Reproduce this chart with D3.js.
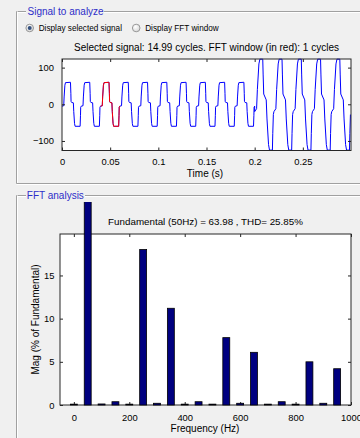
<!DOCTYPE html>
<html>
<head>
<meta charset="utf-8">
<script src="https://cdn.jsdelivr.net/npm/d3@7"></script>
<style>
  body { margin: 0; background: #f0f0f0; }
  svg { display: block; }
  text { font-family: "Liberation Sans", Arial, sans-serif; fill: #000; }
</style>
</head>
<body>
<svg width="360" height="438"></svg>
<script>
// ---- data ----

// one cycle of the signal, [phase, value], small amplitude (t < 0.2 s)
var lowCycle = [
  [0.00, -5], [0.09, -4], [0.11, 20], [0.15, 52], [0.18, 59], [0.44, 60],
  [0.46, 30], [0.47, 8], [0.50, 5], [0.59, 4], [0.61, -20], [0.65, -52],
  [0.68, -60], [0.94, -60], [0.96, -30], [0.97, -8], [1.00, -5]
];
// one cycle, large amplitude (t >= 0.2 s)
var highCycle = [
  [0.00, -20], [0.10, -12], [0.14, 40], [0.22, 110], [0.27, 123], [0.42, 123],
  [0.44, 80], [0.47, 28], [0.60, 12], [0.64, -40], [0.72, -110], [0.77, -125],
  [0.92, -125], [0.94, -80], [0.97, -28], [1.00, -20]
];
var cycleKind = ["low", "low", "low", "low", "low", "low", "low", "low", "low", "low",
                 "high", "high", "high", "high", "high"];
var period = 0.02;
var tEnd = 0.2998;
var fftWindow = [0.04, 0.06];

var timeTicks = [0, 0.05, 0.1, 0.15, 0.2, 0.25];
var timeTickLabels = ["0", "0.05", "0.1", "0.15", "0.2", "0.25"];
var signalTicks = [-100, 0, 100];

var harmonicFreqs = [0, 50, 100, 150, 200, 250, 300, 350, 400, 450,
                     500, 550, 600, 650, 700, 750, 800, 850, 900, 950];
var harmonicMags = [0.1, 100, 0.12, 0.38, 0.1, 18.0, 0.2, 11.2, 0.1, 0.38,
                    0.1, 7.8, 0.2, 6.1, 0.1, 0.38, 0.1, 5.0, 0.2, 4.2];
var freqTicks = [0, 200, 400, 600, 800, 1000];
var magTicks = [0, 5, 10, 15];

var signalText = "Selected signal: 14.99 cycles. FFT window (in red): 1 cycles";
var fftText = "Fundamental (50Hz) = 63.98 , THD= 25.85%";

// ---- build the sample table ----
var samples = [];
cycleKind.forEach(function(kind, i) {
  var shape = kind === "low" ? lowCycle : highCycle;
  shape.forEach(function(p) {
    var t = (i + p[0]) * period;
    if (t <= tEnd) samples.push({t: t, v: p[1]});
  });
});
var redSamples = samples.filter(function(d) {
  return d.t >= fftWindow[0] - 1e-9 && d.t <= fftWindow[1] + 1e-9;
});

var svg = d3.select("svg");
var frameGrey = "#a0a0a0";
var axisCol = "#262626";

function translate(x, y) { return "translate(" + [x, y] + ")"; }

// ---- etched panel frames ----
function etched(g, x1, y1, x2, y2) {
  var dx = x1 === x2 ? 1 : 0, dy = y1 === y2 ? 1 : 0;
  g.append("line").attr("x1", x1).attr("y1", y1).attr("x2", x2).attr("y2", y2)
    .attr("stroke", frameGrey);
  g.append("line").attr("x1", x1 + dx).attr("y1", y1 + dy)
    .attr("x2", x2 + dx).attr("y2", y2 + dy)
    .attr("stroke", "#ffffff");
}
var frames = svg.append("g").classed("frames", true);
etched(frames, 16.5, 11.5, 26, 11.5);
etched(frames, 104, 11.5, 360, 11.5);
etched(frames, 16.5, 11.5, 16.5, 183.5);
etched(frames, 16.5, 183.5, 360, 183.5);
etched(frames, 16.5, 195.5, 26, 195.5);
etched(frames, 85, 195.5, 360, 195.5);
etched(frames, 16.5, 195.5, 16.5, 438);

var panelTitle = {"font-size": "10px", "fill": "#2d2dc8"};
frames.append("text").attr("x", 27.5).attr("y", 15).text("Signal to analyze")
  .style("font-size", panelTitle["font-size"]).style("fill", panelTitle.fill);
frames.append("text").attr("x", 26.8).attr("y", 198.8).text("FFT analysis")
  .style("font-size", panelTitle["font-size"]).style("fill", panelTitle.fill);

// ---- radio buttons ----
var grad = svg.append("defs").append("radialGradient").attr("id", "radioFill")
  .attr("cx", "40%").attr("cy", "35%").attr("r", "70%");
grad.append("stop").attr("offset", "0%").attr("stop-color", "#ffffff");
grad.append("stop").attr("offset", "100%").attr("stop-color", "#d4d4d4");

var radios = [
  {x: 29.7, label: "Display selected signal", on: true},
  {x: 136.2, label: "Display FFT window", on: false}
];
var rg = svg.append("g").classed("radios", true);
radios.forEach(function(r) {
  rg.append("circle").attr("cx", r.x).attr("cy", 28).attr("r", 3.8)
    .attr("fill", "url(#radioFill)").attr("stroke", "#8f8f8f").attr("stroke-width", 0.9);
  if (r.on) {
    rg.append("circle").attr("cx", r.x).attr("cy", 28).attr("r", 2)
      .attr("fill", "#34507e");
  }
  rg.append("text").attr("x", r.x + 9).attr("y", 31).text(r.label)
    .style("font-size", "8.2px");
});

// ---- time signal plot ----
var xT = d3.scaleLinear().domain([0, 0.3]).range([62, 351]);
var yT = d3.scaleLinear().domain([-126, 123.5]).range([150.5, 59]);

var top_g = svg.append("g").classed("signal_plot", true);
top_g.append("rect").attr("x", 62).attr("y", 59).attr("width", 289).attr("height", 91.5)
  .attr("fill", "#ffffff");

var line = d3.line().x(function(d) { return xT(d.t); }).y(function(d) { return yT(d.v); });
top_g.append("path").datum(samples).attr("d", line)
  .attr("fill", "none").attr("stroke", "#0000ff").attr("stroke-width", 1);
top_g.append("path").datum(redSamples).attr("d", line)
  .attr("fill", "none").attr("stroke", "#ff0000").attr("stroke-width", 1);

function styleAxis(g, fs) {
  g.select(".domain").remove();
  g.selectAll(".tick line").attr("stroke", axisCol);
  g.selectAll(".tick text").style("font-family", "'Liberation Sans', Arial, sans-serif")
    .style("font-size", fs).attr("fill", "#000");
}

top_g.append("g").attr("transform", translate(0, 150.5))
  .call(d3.axisBottom(xT).tickValues(timeTicks).tickSizeInner(-3).tickSizeOuter(0)
    .tickPadding(8).tickFormat(function(d, i) { return timeTickLabels[i]; }))
  .call(styleAxis, "9.4px");
top_g.append("g").attr("transform", translate(0, 59))
  .call(d3.axisTop(xT).tickValues(timeTicks).tickSizeInner(-3).tickSizeOuter(0).tickFormat(""))
  .call(styleAxis, "9.4px");
top_g.append("g").attr("transform", translate(62, 0))
  .call(d3.axisLeft(yT).tickValues(signalTicks).tickSizeInner(-3).tickSizeOuter(0).tickPadding(8))
  .call(styleAxis, "9.4px");
top_g.append("g").attr("transform", translate(351, 0))
  .call(d3.axisRight(yT).tickValues(signalTicks).tickSizeInner(-3).tickSizeOuter(0).tickFormat(""))
  .call(styleAxis, "9.4px");

top_g.append("rect").attr("x", 62).attr("y", 59).attr("width", 289).attr("height", 91.5)
  .attr("fill", "none").attr("stroke", axisCol).attr("stroke-width", 1);

top_g.append("text").attr("x", 206.5).attr("y", 50.5).attr("text-anchor", "middle")
  .style("font-size", "10px").text(signalText);
top_g.append("text").attr("x", 205).attr("y", 176.5).attr("text-anchor", "middle")
  .style("font-size", "10px").text("Time (s)");

// ---- FFT plot ----
var xF = d3.scaleLinear().domain([-50, 1000]).range([60, 351]);
var yF = d3.scaleLinear().domain([0, 19.8]).range([405, 234]);
var barW = 25;

var fft_g = svg.append("g").classed("fft_plot", true);
fft_g.append("rect").attr("x", 60).attr("y", 234).attr("width", 291).attr("height", 171)
  .attr("fill", "#ffffff");

svg.select("defs").append("clipPath").attr("id", "barClip")
  .append("rect").attr("x", 0).attr("y", 202).attr("width", 360).attr("height", 236);

fft_g.append("g").attr("transform", translate(0, 405))
  .call(d3.axisBottom(xF).tickValues(freqTicks).tickSizeInner(-3).tickSizeOuter(0)
    .tickPadding(9).tickFormat(d3.format("d")))
  .call(styleAxis, "9.4px");
fft_g.append("g").attr("transform", translate(0, 234))
  .call(d3.axisTop(xF).tickValues(freqTicks).tickSizeInner(-3).tickSizeOuter(0).tickFormat(""))
  .call(styleAxis, "9.4px");
fft_g.append("g").attr("transform", translate(60, 0))
  .call(d3.axisLeft(yF).tickValues(magTicks).tickSizeInner(-3).tickSizeOuter(0).tickPadding(5.5))
  .call(styleAxis, "9.4px");
fft_g.append("g").attr("transform", translate(351, 0))
  .call(d3.axisRight(yF).tickValues(magTicks).tickSizeInner(-3).tickSizeOuter(0).tickFormat(""))
  .call(styleAxis, "9.4px");

fft_g.append("rect").attr("x", 60).attr("y", 234).attr("width", 291).attr("height", 171)
  .attr("fill", "none").attr("stroke", axisCol).attr("stroke-width", 1);

// bars over the box, the fundamental runs past the top like the original
fft_g.append("g").attr("clip-path", "url(#barClip)")
  .selectAll("rect").data(harmonicFreqs).enter().append("rect")
  .attr("x", function(d) { return xF(d - barW / 2); })
  .attr("width", function(d) { return xF(barW) - xF(0); })
  .attr("y", function(d, i) { return yF(harmonicMags[i]); })
  .attr("height", function(d, i) { return yF(0) - yF(harmonicMags[i]); })
  .attr("fill", "#000080").attr("stroke", "#000000").attr("stroke-width", 0.8);

fft_g.append("text").attr("x", 205.5).attr("y", 225).attr("text-anchor", "middle")
  .style("font-size", "9.8px").text(fftText);
fft_g.append("text").attr("x", 205).attr("y", 431.5).attr("text-anchor", "middle")
  .style("font-size", "10px").text("Frequency (Hz)");
fft_g.append("text").attr("transform", translate(39, 319.5) + " rotate(-90)")
  .attr("text-anchor", "middle").style("font-size", "10px").text("Mag (% of Fundamental)");
</script>
</body>
</html>
